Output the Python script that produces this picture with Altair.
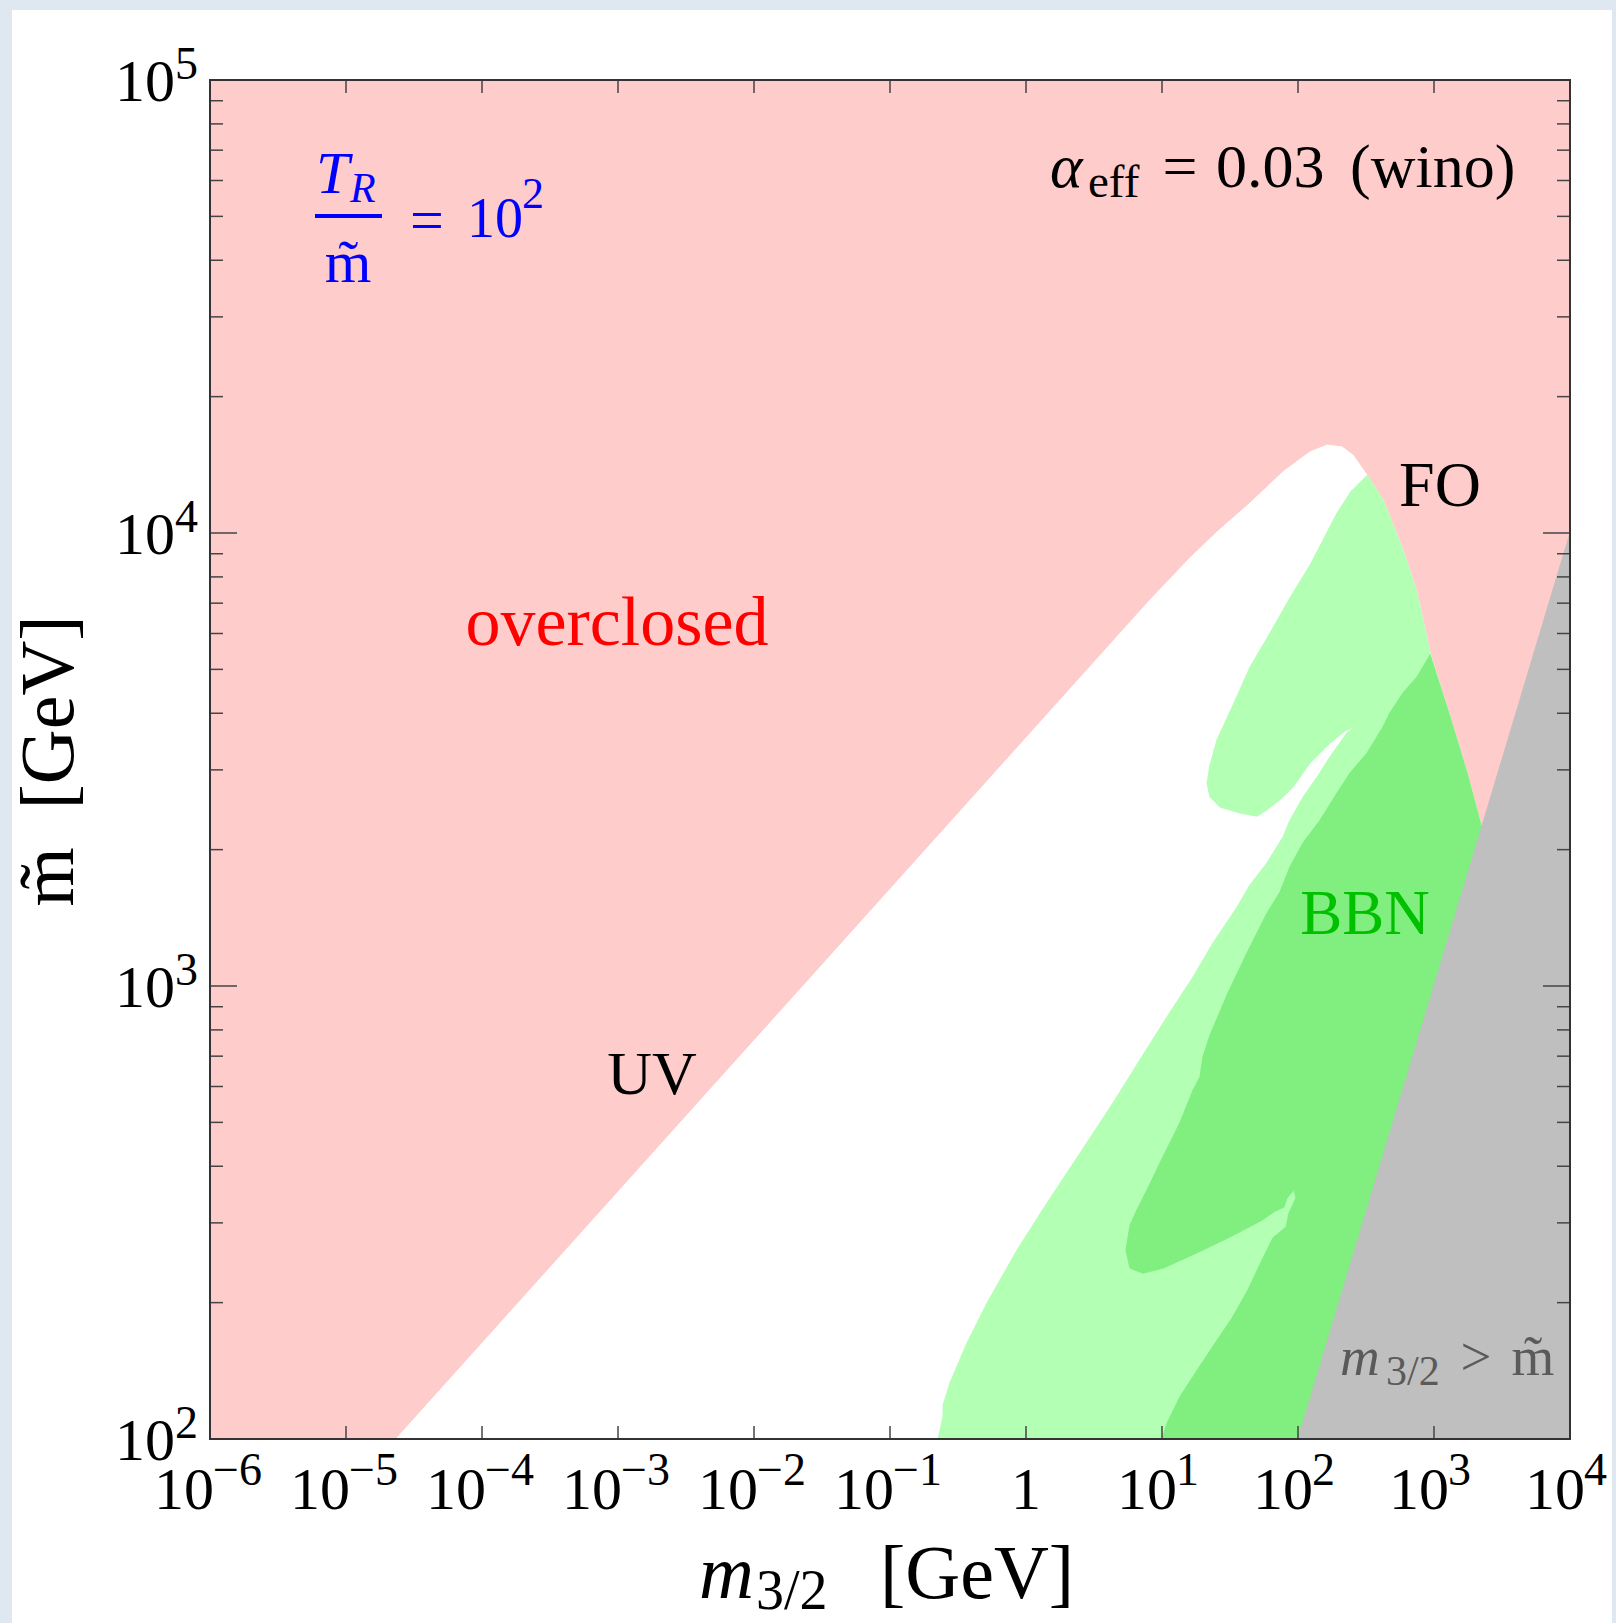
import altair as alt
import pandas as pd

# ---------------- data (log10 values) ----------------
# allowed (not overclosed) region: UV boundary, FO boundary, m3/2 = m~ line
white_log_m = [-4.632, 0.912, 1.206, 1.404, 1.647, 1.890, 2.088, 2.213, 2.324, 2.404, 2.507,
               2.625, 2.772, 2.875, 2.971, 3.118, 3.243, 3.350, 2.000]
white_log_mt = [2.000, 3.852, 3.945, 4.002, 4.066, 4.135, 4.179, 4.194, 4.190, 4.172, 4.128,
                4.073, 3.962, 3.868, 3.735, 3.594, 3.470, 3.350, 2.000]

# BBN (weak constraint), light green
bbn1_log_m = [2.507, 2.625, 2.772, 2.875, 2.971, 3.118, 3.243, 3.350, 2.000, -0.647,
              -0.610, -0.610, -0.559, -0.434, -0.287, -0.066, 0.154, 0.397, 0.640, 0.838,
              1.037, 1.228, 1.375, 1.551, 1.647, 1.772, 1.890, 1.941, 2.037, 2.140,
              2.235, 2.360, 2.441, 2.346, 2.235, 2.088, 1.963, 1.890, 1.772, 1.699,
              1.574, 1.426, 1.353, 1.331, 1.353, 1.404, 1.522, 1.647, 1.794, 1.941,
              2.088, 2.287, 2.397]
bbn1_log_mt = [4.128, 4.073, 3.962, 3.868, 3.735, 3.594, 3.470, 3.350, 2.000, 2.000,
               2.049, 2.075, 2.124, 2.212, 2.300, 2.417, 2.521, 2.631, 2.742, 2.837,
               2.932, 3.020, 3.095, 3.174, 3.223, 3.272, 3.329, 3.366, 3.417, 3.461,
               3.506, 3.559, 3.576, 3.563, 3.536, 3.492, 3.439, 3.417, 3.389, 3.375,
               3.382, 3.395, 3.417, 3.448, 3.488, 3.543, 3.620, 3.704, 3.779, 3.857,
               3.929, 4.044, 4.095]

# BBN (strong constraint), darker green
bbn2_log_m = [1.000, 1.037, 1.132, 1.250, 1.382, 1.515, 1.632, 1.735, 1.816, 1.912,
              1.934, 1.985, 1.971, 1.919, 1.897, 1.831, 1.735, 1.500, 1.257, 1.007,
              0.860, 0.765, 0.735, 0.765, 0.816, 0.890, 1.007, 1.132, 1.228, 1.279,
              1.301, 1.353, 1.485, 1.625, 1.772, 1.868, 1.941, 2.037, 2.162, 2.287,
              2.382, 2.507, 2.625, 2.676, 2.772, 2.875, 2.971, 3.118, 3.243, 3.350, 2.000]
bbn2_log_mt = [2.000, 2.035, 2.093, 2.148, 2.208, 2.267, 2.329, 2.395, 2.444, 2.468,
               2.499, 2.532, 2.550, 2.532, 2.512, 2.503, 2.483, 2.446, 2.411, 2.377,
               2.366, 2.377, 2.417, 2.472, 2.506, 2.550, 2.623, 2.698, 2.770, 2.799,
               2.843, 2.892, 2.985, 3.073, 3.161, 3.208, 3.263, 3.316, 3.366, 3.426,
               3.470, 3.514, 3.572, 3.603, 3.647, 3.682, 3.731, 3.594, 3.470, 3.350, 2.000]

# m3/2 > m~ region
grey_log_m = [2.0, 4.0, 4.0]
grey_log_mt = [2.0, 4.0, 2.0]

x_tick_values = [1e-6, 1e-5, 1e-4, 1e-3, 1e-2, 1e-1, 1, 1e1, 1e2, 1e3, 1e4]
x_tick_exponents = ["\u22126", "\u22125", "\u22124", "\u22123", "\u22122", "\u22121", "", "1", "2", "3", "4"]
y_tick_values = [1e2, 1e3, 1e4, 1e5]
y_tick_exponents = ["2", "3", "4", "5"]
y_minor_values = [k * 10 ** p for p in (2, 3, 4) for k in range(2, 10)]

# ---------------- layout ----------------
W, H = 1360, 1359
FONT = "Liberation Serif"
PINK = "#ffcccc"
LGREEN = "#b3ffb3"
DGREEN = "#80ef80"
GREY = "#bfbfbf"
TICK = "#444444"

xs = alt.Scale(type="log", domain=[1e-6, 1e4], nice=False)
ys = alt.Scale(type="log", domain=[1e2, 1e5], nice=False)
one = pd.DataFrame({"a": [0]})


def poly(lx, ly, color):
    df = pd.DataFrame({"m": [10 ** v for v in lx], "mt": [10 ** v for v in ly],
                       "i": list(range(len(lx)))})
    return alt.Chart(df).mark_line(fill=color, stroke=color, strokeWidth=1,
                                   strokeJoin="round").encode(
        x=alt.X("m:Q", scale=xs, axis=None),
        y=alt.Y("mt:Q", scale=ys, axis=None),
        order="i:Q")


def txt(s, x, y, size, color="black", align="left", italic=False, angle=0):
    return alt.Chart(one).mark_text(
        text=s, font=FONT, fontSize=size, color=color, align=align,
        baseline="alphabetic", fontStyle="italic" if italic else "normal",
        angle=angle).encode(x=alt.value(x), y=alt.value(y))


layers = []
# white panel + pink plot background
layers.append(alt.Chart(one).mark_rect(color="white").encode(
    x=alt.value(-198), x2=alt.value(1402), y=alt.value(-70), y2=alt.value(1600)))
bg = pd.DataFrame({"x": [1e-6], "x2": [1e4], "y": [1e2], "y2": [1e5]})
layers.append(alt.Chart(bg).mark_rect(color=PINK).encode(
    x=alt.X("x:Q", scale=xs, axis=None), x2="x2",
    y=alt.Y("y:Q", scale=ys, axis=None), y2="y2"))

layers.append(poly(white_log_m, white_log_mt, "white"))
layers.append(poly(bbn1_log_m, bbn1_log_mt, LGREEN))
layers.append(poly(bbn2_log_m, bbn2_log_mt, DGREEN))
layers.append(poly(grey_log_m, grey_log_mt, GREY))

# ticks (inward, on all four sides)
xt = pd.DataFrame({"v": x_tick_values})
yt = pd.DataFrame({"v": y_tick_values})
ym = pd.DataFrame({"v": y_minor_values})
for y0, y1 in ((H, H - 13), (0, 13)):
    layers.append(alt.Chart(xt).mark_rule(color=TICK, strokeWidth=1.5).encode(
        x=alt.X("v:Q", scale=xs, axis=None), y=alt.value(y0), y2=alt.value(y1)))
for df, ln in ((yt, 27), (ym, 13)):
    for x0, x1 in ((0, ln), (W - ln, W)):
        layers.append(alt.Chart(df).mark_rule(color=TICK, strokeWidth=1.5).encode(
            y=alt.Y("v:Q", scale=ys, axis=None), x=alt.value(x0), x2=alt.value(x1)))

# frame
layers.append(alt.Chart(one).mark_rect(filled=False, stroke="#333333", strokeWidth=2).encode(
    x=alt.value(0), x2=alt.value(W), y=alt.value(0), y2=alt.value(H)))

# x tick labels
xl = pd.DataFrame({"v": x_tick_values, "e": x_tick_exponents})
neg = xl[xl["v"] < 1]
pos = xl[xl["v"] > 1]
mid = xl[xl["v"] == 1]
for df, dx in ((neg, 4), (pos, 15)):
    layers.append(alt.Chart(df).mark_text(text="10", font=FONT, fontSize=60, align="right",
                                          baseline="alphabetic", dx=dx, color="black").encode(
        x=alt.X("v:Q", scale=xs, axis=None), y=alt.value(H + 70)))
    layers.append(alt.Chart(df).mark_text(font=FONT, fontSize=46, align="left",
                                          baseline="alphabetic", dx=dx - 1, color="black").encode(
        x=alt.X("v:Q", scale=xs, axis=None), y=alt.value(H + 46), text="e:N"))
layers.append(alt.Chart(mid).mark_text(text="1", font=FONT, fontSize=60, align="center",
                                       baseline="alphabetic", color="black").encode(
    x=alt.X("v:Q", scale=xs, axis=None), y=alt.value(H + 70)))

# y tick labels
yl = pd.DataFrame({"v": y_tick_values, "e": y_tick_exponents})
layers.append(alt.Chart(yl).mark_text(text="10", font=FONT, fontSize=60, align="right",
                                      baseline="alphabetic", dy=21, color="black").encode(
    y=alt.Y("v:Q", scale=ys, axis=None), x=alt.value(-35)))
layers.append(alt.Chart(yl).mark_text(font=FONT, fontSize=46, align="right",
                                      baseline="alphabetic", dy=-1, color="black").encode(
    y=alt.Y("v:Q", scale=ys, axis=None), x=alt.value(-12), text="e:N"))

# axis titles
layers.append(txt("m\u0303\u00a0\u00a0[GeV]", -137, 681, 76, align="center", angle=270))
layers.append(txt("m", 489, 1518, 76, italic=True))
layers.append(txt("3/2", 546, 1529, 56))
layers.append(txt("[GeV]", 670, 1518, 76))

# annotations
layers.append(txt("overclosed", 407, 565, 70, color="#ff0000", align="center"))
layers.append(txt("UV", 442, 1014, 62, align="center"))
layers.append(txt("FO", 1230, 426, 64, align="center"))
layers.append(txt("BBN", 1155, 854, 63, color="#00c000", align="center"))
GT = "#5a5a5a"
layers.append(txt("m", 1130, 1295, 55, color=GT, italic=True))
layers.append(txt("3/2", 1176, 1305, 42, color=GT))
layers.append(txt(">", 1266, 1295, 55, color=GT, align="center"))
layers.append(txt("m\u0303", 1323, 1295, 55, color=GT, align="center"))

layers.append(txt("\u03b1", 840, 107, 62, italic=True))
layers.append(txt("eff", 878, 117, 47))
layers.append(txt("=", 970, 107, 62, align="center"))
layers.append(txt("0.03", 1006, 107, 62))
layers.append(txt("(wino)", 1140, 107, 62))

BL = "#0000ff"
layers.append(txt("T", 106, 113, 60, color=BL, italic=True))
layers.append(txt("R", 140, 122, 42, color=BL, italic=True))
layers.append(alt.Chart(one).mark_rule(color=BL, strokeWidth=4).encode(
    x=alt.value(105), x2=alt.value(172), y=alt.value(136)))
layers.append(txt("m\u0303", 138, 202, 60, color=BL, align="center"))
layers.append(txt("=", 217, 160, 60, color=BL, align="center"))
layers.append(txt("10", 257, 157, 56, color=BL))
layers.append(txt("2", 312, 128, 44, color=BL))

chart = alt.layer(*layers).properties(
    width=W, height=H,
    padding={"left": 210, "top": 80, "right": 46, "bottom": 184},
    autosize=alt.AutoSizeParams(type="none"),
).configure(background="#dfe7f1").configure_view(strokeWidth=0)

chart.save("out.html", embed_options={"renderer": "svg", "actions": False})
